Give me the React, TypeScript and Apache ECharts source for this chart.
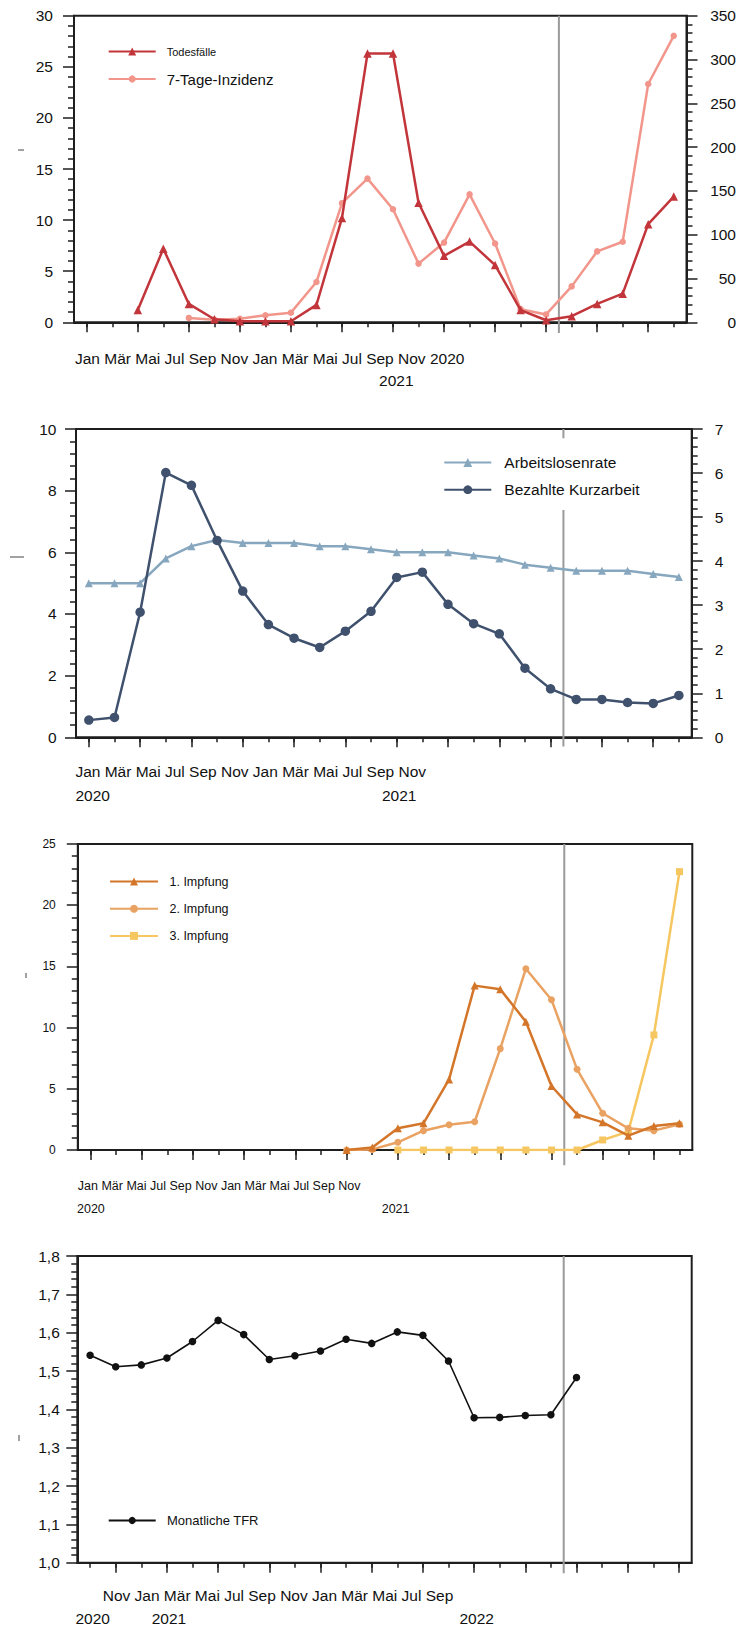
import React, { useEffect, useRef } from 'react';
import * as echarts from 'echarts';

// ---------- categories ----------
const months = [
  'Jan 2020', 'Feb 2020', 'Mär 2020', 'Apr 2020', 'Mai 2020', 'Jun 2020',
  'Jul 2020', 'Aug 2020', 'Sep 2020', 'Okt 2020', 'Nov 2020', 'Dez 2020',
  'Jan 2021', 'Feb 2021', 'Mär 2021', 'Apr 2021', 'Mai 2021', 'Jun 2021',
  'Jul 2021', 'Aug 2021', 'Sep 2021', 'Okt 2021', 'Nov 2021', 'Dez 2021',
];
const monthsTfr = [
  'Okt 2020', 'Nov 2020', 'Dez 2020', 'Jan 2021', 'Feb 2021', 'Mär 2021',
  'Apr 2021', 'Mai 2021', 'Jun 2021', 'Jul 2021', 'Aug 2021', 'Sep 2021',
  'Okt 2021', 'Nov 2021', 'Dez 2021', 'Jan 2022', 'Feb 2022', 'Mär 2022',
  'Apr 2022', 'Mai 2022', 'Jun 2022', 'Jul 2022', 'Aug 2022', 'Sep 2022',
];

// ---------- tick label texts ----------
const xLabels1 = ['Jan', 'Mär', 'Mai', 'Jul', 'Sep', 'Nov', 'Jan', 'Mär', 'Mai', 'Jul', 'Sep', 'Nov', '2020'];
const yearLabels1 = ['2021'];
const xLabels2 = ['Jan', 'Mär', 'Mai', 'Jul', 'Sep', 'Nov', 'Jan', 'Mär', 'Mai', 'Jul', 'Sep', 'Nov'];
const yearLabels2 = ['2020', '2021'];
const xLabels3 = ['Jan', 'Mär', 'Mai', 'Jul', 'Sep', 'Nov', 'Jan', 'Mär', 'Mai', 'Jul', 'Sep', 'Nov'];
const yearLabels3 = ['2020', '2021'];
const xLabels4 = ['Nov', 'Jan', 'Mär', 'Mai', 'Jul', 'Sep', 'Nov', 'Jan', 'Mär', 'Mai', 'Jul', 'Sep'];
const yearLabels4 = ['2020', '2021', '2022'];

// ---------- series values ----------
const todesfaelle = [null, null, 1.2, 7.2, 1.8, 0.3, 0.1, 0.1, 0.1, 1.7, 10.2, 26.3, 26.3, 11.7, 6.5, 7.9, 5.6, 1.2, 0.2, 0.6, 1.8, 2.8, 9.6, 12.3];
const inzidenz = [null, null, null, null, 5, 3, 4, 8, 11, 46, 136, 164, 129, 67, 91, 146, 90, 15, 9, 41, 81, 92, 272, 327];

const arbeitslosenrate = [5.0, 5.0, 5.0, 5.8, 6.2, 6.4, 6.3, 6.3, 6.3, 6.2, 6.2, 6.1, 6.0, 6.0, 6.0, 5.9, 5.8, 5.6, 5.5, 5.4, 5.4, 5.4, 5.3, 5.2];
const kurzarbeit = [0.39, 0.45, 2.84, 6.01, 5.72, 4.47, 3.32, 2.56, 2.25, 2.04, 2.41, 2.86, 3.63, 3.75, 3.02, 2.58, 2.35, 1.57, 1.10, 0.86, 0.86, 0.79, 0.77, 0.95];

const impfung1 = [null, null, null, null, null, null, null, null, null, null, 0, 0.2, 1.77, 2.18, 5.77, 13.43, 13.13, 10.48, 5.23, 2.91, 2.26, 1.17, 1.96, 2.18];
const impfung2 = [null, null, null, null, null, null, null, null, null, null, 0, 0.05, 0.63, 1.58, 2.07, 2.31, 8.28, 14.81, 12.28, 6.59, 3.0, 1.77, 1.58, 2.1];
const impfung3 = [null, null, null, null, null, null, null, null, null, null, null, null, 0, 0, 0, 0, 0, 0, 0, 0, 0.82, 1.5, 9.4, 22.74];

const tfr = [1.541, 1.511, 1.516, 1.534, 1.577, 1.632, 1.595, 1.530, 1.540, 1.552, 1.583, 1.572, 1.602, 1.593, 1.526, 1.378, 1.379, 1.384, 1.386, 1.483, null, null, null, null];

// position of the grey separator (between two categories)
const separatorAt = 18.5;

const FONT = '"Liberation Sans", Arial, Helvetica, sans-serif';
const AX = '#1e1e1e';

const RED = '#c2363b';
const SALMON = '#f2968c';
const LIGHTBLUE = '#87a7bf';
const SLATE = '#3f516d';
const ORANGE1 = '#d4762a';
const ORANGE2 = '#e9a262';
const YELLOW = '#f6c660';

function valAxis(gridIndex: number, position: string, min: number, max: number, interval: number, fontSize: number, margin: number, formatter?: any, align?: string) {
  return {
    type: 'value', gridIndex, position, min, max, interval,
    axisLine: { show: true, onZero: false, lineStyle: { color: AX, width: 2 } },
    axisTick: { show: true, length: 11, lineStyle: { color: AX, width: 1.5 } },
    minorTick: { show: true, splitNumber: 5, length: 6, lineStyle: { color: AX, width: 1.5 } },
    splitLine: { show: false },
    minorSplitLine: { show: false },
    axisLabel: { fontSize, fontFamily: FONT, color: '#111', margin, formatter, align },
  };
}

function hiddenY(gridIndex: number) {
  return { type: 'value', gridIndex, position: 'left', min: 0, max: 1, show: false };
}

function catAxes(gridIndex: number, cats: string[], longOdd: boolean) {
  return [
    {
      type: 'category', gridIndex, data: cats, boundaryGap: true, position: 'bottom',
      axisLine: { show: true, onZero: false, lineStyle: { color: AX, width: 2 } },
      axisTick: { show: true, alignWithLabel: true, interval: 0, length: 5, lineStyle: { color: AX, width: 1.5 } },
      axisLabel: { show: false },
      splitLine: { show: false },
    },
    {
      type: 'category', gridIndex, data: cats, boundaryGap: true, position: 'bottom',
      axisLine: { show: false },
      axisTick: {
        show: true, alignWithLabel: true, length: 10,
        interval: (i: number) => i % 2 === (longOdd ? 1 : 0),
        lineStyle: { color: AX, width: 1.5 },
      },
      axisLabel: { show: false },
      splitLine: { show: false },
    },
    { type: 'value', gridIndex, position: 'bottom', min: -0.5, max: cats.length - 0.5, show: false },
  ];
}

function separator(xAxisIndex: number, yAxisIndex: number, below: number) {
  return {
    type: 'line', xAxisIndex, yAxisIndex,
    data: [[separatorAt, -below], [separatorAt, 1]],
    symbol: 'none', silent: true, clip: false, z: 1,
    lineStyle: { color: '#9a9a9a', width: 2 },
  };
}

function lineSeries(name: string, data: any[], xAxisIndex: number, yAxisIndex: number, color: string, symbol: string, symbolSize: number, width: number, z = 2) {
  return {
    name, type: 'line', data, xAxisIndex, yAxisIndex, symbol, symbolSize,
    showAllSymbol: true, z,
    lineStyle: { color, width },
    itemStyle: { color },
  };
}

function txt(text: string, x: number, y: number, fontSize: number, align = 'left') {
  return {
    type: 'text', x, y, silent: true,
    style: { text, fontSize, fontFamily: FONT, fill: '#111', align, verticalAlign: 'middle' },
  };
}

function dash(x1: number, y1: number, x2: number, y2: number) {
  return { type: 'line', silent: true, shape: { x1, y1, x2, y2 }, style: { stroke: '#444', lineWidth: 1 } };
}

export default function App() {
  const ref = useRef<HTMLDivElement>(null);

  useEffect(() => {
    if (!ref.current) return;
    const chart = echarts.init(ref.current, null, { renderer: 'svg' });

    const gridStyle = { show: true, borderColor: AX, borderWidth: 2, backgroundColor: 'transparent', containLabel: false };

    const option: any = {
      animation: false,
      backgroundColor: '#fff',
      textStyle: { fontFamily: FONT },
      grid: [
        { ...gridStyle, left: 74, top: 15.7, width: 614.3, height: 306.6 },
        { ...gridStyle, left: 76, top: 429, width: 615.7, height: 308.3 },
        { ...gridStyle, left: 77.8, top: 844, width: 614.5, height: 306 },
        { ...gridStyle, left: 77.3, top: 1256, width: 614.4, height: 306.7 },
      ],
      xAxis: [
        ...catAxes(0, months, false),
        ...catAxes(1, months, false),
        ...catAxes(2, months, false),
        ...catAxes(3, monthsTfr, true),
      ],
      yAxis: [
        valAxis(0, 'left', 0, 30, 5, 15.5, 21),
        valAxis(0, 'right', 0, 350, 50, 15.5, 49.5, undefined, 'right'),
        hiddenY(0),
        valAxis(1, 'left', 0, 10, 2, 15.5, 19.5),
        valAxis(1, 'right', 0, 7, 1, 15.5, 23),
        hiddenY(1),
        valAxis(2, 'left', 0, 25, 5, 12, 22),
        hiddenY(2),
        valAxis(3, 'left', 1.0, 1.8, 0.1, 15.5, 17.5, (v: number) => v.toFixed(1).replace('.', ',')),
        hiddenY(3),
      ],
      legend: [
        {
          data: ['Todesfälle'], left: 107.7, top: 44.5, padding: 0,
          itemWidth: 47, itemHeight: 10,
          textStyle: { fontSize: 11, lineHeight: 14, fontFamily: FONT, color: '#111', padding: [0, 0, 0, 6] },
        },
        {
          data: ['7-Tage-Inzidenz'], left: 107.7, top: 70, padding: 0,
          itemWidth: 47, itemHeight: 9,
          textStyle: { fontSize: 15, lineHeight: 18, fontFamily: FONT, color: '#111', padding: [0, 0, 0, 6] },
        },
        {
          data: ['Arbeitslosenrate', 'Bezahlte Kurzarbeit'], orient: 'vertical',
          left: 438.3, top: 438.3, padding: [16.2, 10, 12.3, 5], itemGap: 11.2,
          backgroundColor: '#fff',
          itemWidth: 47, itemHeight: 11,
          textStyle: { fontSize: 15.5, lineHeight: 16, fontFamily: FONT, color: '#111', padding: [0, 0, 0, 8] },
        },
        {
          data: ['1. Impfung', '2. Impfung', '3. Impfung'], orient: 'vertical',
          left: 109, top: 874.5, padding: 0, itemGap: 13.2,
          itemWidth: 48, itemHeight: 10,
          textStyle: { fontSize: 12.5, lineHeight: 14, fontFamily: FONT, color: '#111', padding: [0, 0, 0, 6.5] },
        },
        {
          data: ['Monatliche TFR'], left: 107.7, top: 1513.5, padding: 0,
          itemWidth: 47, itemHeight: 9,
          textStyle: { fontSize: 13, lineHeight: 14, fontFamily: FONT, color: '#111', padding: [0, 0, 0, 6.3] },
        },
      ],
      series: [
        separator(2, 2, 0.035),
        lineSeries('7-Tage-Inzidenz', inzidenz, 0, 1, SALMON, 'circle', 6.5, 2.5, 2),
        lineSeries('Todesfälle', todesfaelle, 0, 0, RED, 'triangle', 8.5, 2.5, 3),

        separator(5, 5, 0.03),
        lineSeries('Arbeitslosenrate', arbeitslosenrate, 3, 3, LIGHTBLUE, 'triangle', 8, 2.5, 2),
        lineSeries('Bezahlte Kurzarbeit', kurzarbeit, 3, 4, SLATE, 'circle', 9.5, 2.5, 3),

        separator(8, 7, 0.05),
        lineSeries('3. Impfung', impfung3, 6, 6, YELLOW, 'rect', 7, 2.5, 2),
        lineSeries('2. Impfung', impfung2, 6, 6, ORANGE2, 'circle', 7, 2.5, 3),
        lineSeries('1. Impfung', impfung1, 6, 6, ORANGE1, 'triangle', 8, 2.5, 4),

        separator(11, 9, 0.034),
        lineSeries('Monatliche TFR', tfr, 9, 8, '#111', 'circle', 7.5, 1.6, 2),
      ],
      graphic: [
        txt(xLabels1.join(' '), 75, 358, 15.5),
        txt(yearLabels1[0], 396.3, 380, 15.5, 'center'),
        txt(xLabels2.join(' '), 75.4, 771.7, 15.5),
        txt(yearLabels2[0], 75.4, 795, 15.5),
        txt(yearLabels2[1], 382, 795, 15.5),
        txt(xLabels3.join(' '), 77.8, 1186, 12.5),
        txt(yearLabels3[0], 77, 1209, 12.5),
        txt(yearLabels3[1], 381.7, 1209, 12.5),
        txt(xLabels4.join(' '), 102.7, 1595, 15.5),
        txt(yearLabels4[0], 75.4, 1618, 15.5),
        txt(yearLabels4[1], 151.7, 1618, 15.5),
        txt(yearLabels4[2], 459.5, 1618, 15.5),
        dash(18, 150, 24, 150),
        dash(10, 557, 24, 557),
        dash(26, 973, 26, 978),
        dash(19, 1435, 19, 1441),
      ],
    };

    chart.setOption(option);
    return () => chart.dispose();
  }, []);

  return (
    <div
      ref={ref}
      style={{ position: 'absolute', left: 0, top: 0, width: 739, height: 1627, background: '#fff' }}
    />
  );
}
